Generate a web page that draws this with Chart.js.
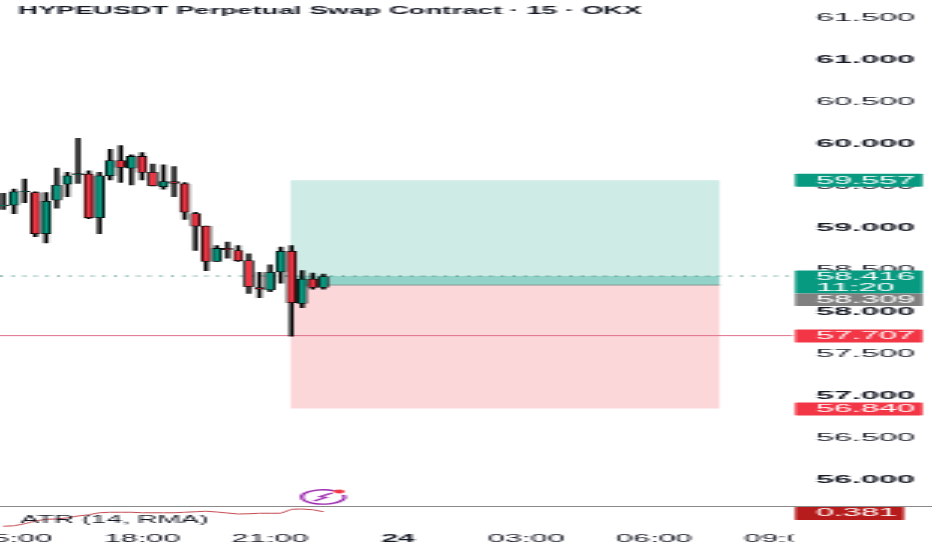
<!DOCTYPE html>
<html><head><meta charset="utf-8">
<style>
html,body{margin:0;padding:0;background:#fff;overflow:hidden;width:932px;height:550px}
canvas{position:absolute;left:0;top:0;transform-origin:0 0;transform:scaleX(2.99678);}
</style>
<script src="https://cdn.jsdelivr.net/npm/chart.js@4"></script>
</head><body><canvas id="c" width="311" height="550"></canvas>
<script>
const titleText = "HYPEUSDT Perpetual Swap Contract · 15 · OKX";
const atrLabel = "ATR (14, RMA)";
const opens  = [59.25,59.26,59.42,59.41,58.92,59.32,59.51,59.62,59.63,59.11,59.61,59.79,59.70,59.84,59.65,59.48,59.54,59.515,59.16,59.01,58.59,58.745,58.72,58.60,58.28,58.25,58.465,58.71,58.09,58.38,58.28];
const highs  = [59.40,59.45,59.57,59.42,59.41,59.70,59.65,60.055,59.67,59.65,59.925,59.97,59.86,59.885,59.75,59.74,59.72,59.53,59.175,59.01,58.78,58.82,58.78,58.68,58.46,58.55,58.76,58.78,58.48,58.45,58.44];
const lows   = [59.21,59.16,59.29,58.885,58.81,59.225,59.36,59.52,59.10,58.92,59.56,59.53,59.50,59.56,59.49,59.45,59.36,59.09,58.72,58.48,58.59,58.63,58.59,58.21,58.16,58.23,58.33,57.70,58.04,58.26,58.26];
const closes = [59.26,59.42,59.425,58.92,59.305,59.50,59.61,59.635,59.11,59.61,59.79,59.71,59.84,59.65,59.49,59.54,59.52,59.175,59.01,58.59,58.745,58.73,58.60,58.29,58.26,58.46,58.71,58.10,58.38,58.28,58.41];
const atrValues = [0.324,0.326,0.334,0.345,0.352,0.353,0.358,0.365,0.370,0.378,0.380,0.380,0.380,0.378,0.378,0.378,0.378,0.380,0.382,0.384,0.381,0.377,0.373,0.374,0.376,0.376,0.376,0.392,0.393,0.390,0.382];
const timeTickIndex = [1,13,25,37,49,61,73];
const timeTickLabels = ["15:00","18:00","21:00","24","03:00","06:00","09:00"];
const priceTicks = [61.5,61,60.5,60,59.5,59,58.5,58,57.5,57,56.5,56];
const targetPrice = 59.557, entryPrice = 58.309, stopPrice = 56.84, lastPrice = 58.416, markPrice = 57.707, atrLast = 0.381;
const countdown = "11:20";
const toolStart = 26.87, toolEnd = 67.17;

const K = 932/311;
const GREEN='#089981', RED='#f23645';
const rx = v => v/K;
const idx = opens.map((_,i)=>i);
const hline = (v,a,b)=>[{x:a,y:v},{x:b,y:v}];
const band = (top,bottom,color,order)=>({type:'line',data:hline(top,toolStart,toolEnd),borderWidth:0,pointRadius:0,
  backgroundColor:color,fill:{value:bottom},order,yAxisID:'y',clip:false});

const overlay = {
  id:'overlay',
  afterDraw(chart){
    const c=chart.ctx, y=chart.scales.y, ya=chart.scales.atr;
    c.save();
    c.fillStyle='#fff'; c.fillRect(rx(793),530,rx(140),20);
    c.strokeStyle='#8a8a8a'; c.lineWidth=1;
    c.beginPath(); c.moveTo(0,506.5); c.lineTo(rx(932),506.5); c.stroke();
    c.fillStyle='#131722'; c.textBaseline='middle'; c.textAlign='left';
    const squeezed=(s,font,f,x,yy)=>{c.save();c.scale(f,1);c.font=font;c.fillText(s,rx(x)/f,yy);c.restore();};
    squeezed(titleText,'bold 11.5px "Liberation Sans"',0.8,18,11);
    squeezed(atrLabel,'11.5px "Liberation Sans"',0.81,20,519.5);
    const tag=(top,h,col,w)=>{c.fillStyle=col;c.beginPath();c.roundRect(rx(795),top,rx(w||127.5),h,0.6);c.fill();};
    const txt=(s,py)=>{c.fillStyle='#fff';squeezed(s,'10.8px "Liberation Sans"',1,816,py);};
    const py=v=>y.getPixelForValue(v);
    const fmt=v=>v.toFixed(3);
    tag(py(targetPrice)-6.5,13,GREEN); txt(fmt(targetPrice),py(targetPrice)+.5);
    const lp=py(lastPrice);
    tag(lp-5.5,23,GREEN); txt(fmt(lastPrice),lp+1); txt(countdown,lp+11.5);
    tag(lp+17.5,12.5,'#808080'); txt(fmt(entryPrice),lp+24);
    tag(py(markPrice)-6,13,RED); txt(fmt(markPrice),py(markPrice)+.5);
    tag(py(stopPrice)-6,13,RED); txt(fmt(stopPrice),py(stopPrice)+.5);
    tag(507,13,'#b71c1c',109); txt(fmt(atrLast),ya.getPixelForValue(atrLast)+1.5);
    c.strokeStyle='#9c27b0'; c.lineWidth=1.3;
    c.beginPath(); c.arc(rx(323),497,7.2,-0.3,Math.PI*2-1.0); c.stroke();
    c.lineWidth=1.1;
    c.beginPath(); c.moveTo(rx(314),501); c.lineTo(rx(326),497.5); c.lineTo(rx(320),496.5); c.lineTo(rx(332),493); c.stroke();
    c.fillStyle=RED; c.beginPath(); c.ellipse(rx(339),491.5,rx(5.5),1.9,0,0,Math.PI*2); c.fill();
    c.restore();
  }
};

new Chart(document.getElementById('c'),{
  type:'bar',
  plugins:[overlay],
  data:{datasets:[
    {type:'bar',data:idx.map(i=>({x:i,y:[opens[i],closes[i]]})),barThickness:rx(9),grouped:false,
      backgroundColor:idx.map(i=>closes[i]>=opens[i]?GREEN:RED),borderColor:'#000',borderWidth:0.8,borderSkipped:false,order:1,yAxisID:'y'},
    {type:'bar',data:idx.map(i=>({x:i,y:[lows[i],highs[i]]})),barThickness:rx(2.6),grouped:false,
      backgroundColor:'#000',borderWidth:0,order:2,yAxisID:'y'},
    {type:'line',data:hline(lastPrice,-0.31,74),borderColor:'#3f8f82',borderWidth:1,borderDash:[1,2.8],pointRadius:0,order:3,yAxisID:'y',clip:false},
    {type:'line',data:hline(markPrice,-0.31,74),borderColor:'#e0708a',borderWidth:1,pointRadius:0,order:3,yAxisID:'y',clip:false},
    {type:'line',data:hline(entryPrice,toolStart,toolEnd),borderColor:'#7f9a94',borderWidth:1,pointRadius:0,order:4,yAxisID:'y'},
    band(lastPrice,entryPrice,'rgba(8,153,129,.3)',5),
    band(targetPrice,entryPrice,'rgba(8,153,129,.2)',6),
    band(entryPrice,stopPrice,'rgba(242,54,69,.2)',6),
    {type:'line',data:idx.map(i=>({x:i,y:atrValues[i]})),borderColor:'#c2484f',borderWidth:1,pointRadius:0,order:3,yAxisID:'atr',clip:false}
  ]},
  options:{
    responsive:false,animation:false,devicePixelRatio:1,
    layout:{padding:0},
    plugins:{legend:{display:false},tooltip:{enabled:false},title:{display:false}},
    scales:{
      x:{type:'linear',min:-0.31,max:73.73,offset:false,grid:{display:false,drawTicks:false},border:{display:false},
        afterBuildTicks:s=>{s.ticks=timeTickIndex.map(v=>({value:v}));},
        afterFit:s=>{s.paddingLeft=0;s.paddingRight=0;s.height=22;},
        ticks:{autoSkip:false,maxRotation:0,padding:5,color:'#131722',
          font:ctx=>({family:'"Liberation Sans"',size:10.2,weight:ctx.tick&&ctx.tick.value===37?'bold':'normal'}),
          callback:v=>timeTickLabels[timeTickIndex.indexOf(v)]}},
      y:{position:'right',min:55.417,max:61.702,grid:{display:false,drawTicks:false},border:{display:false},
        afterBuildTicks:s=>{s.ticks=priceTicks.map(v=>({value:v}));},
        afterFit:s=>{s.width=rx(142);s.paddingTop=0;s.paddingBottom=0;},
        ticks:{autoSkip:false,padding:rx(26),color:'#131722',labelOffset:1.5,
          font:ctx=>({family:'"Liberation Sans"',size:10.8,weight:ctx.tick&&Number.isInteger(ctx.tick.value)?'bold':'normal'}),
          callback:v=>v.toFixed(3)}},
      atr:{display:false,position:'right',min:0.317,max:2.429}
    }
  }
});
</script></body></html>
